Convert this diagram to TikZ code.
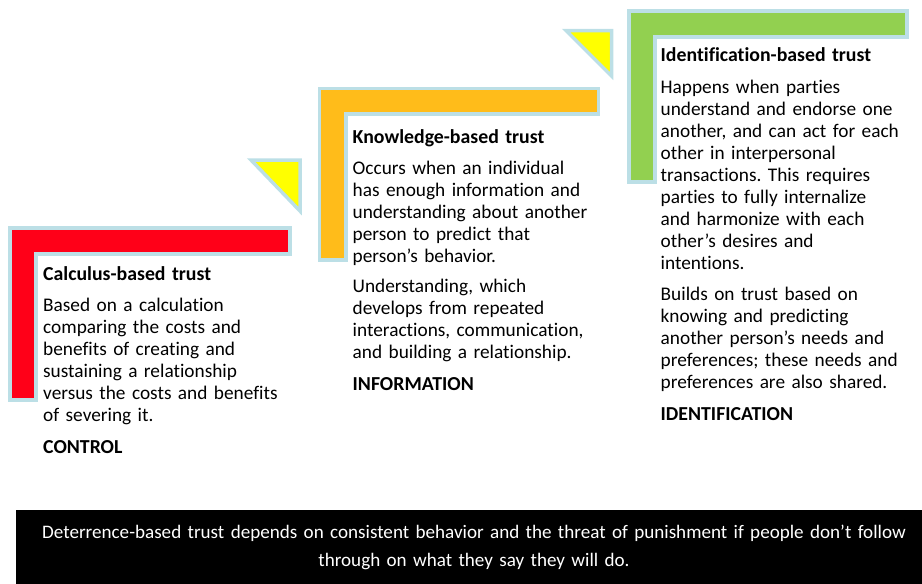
\documentclass[tikz,border=0pt]{standalone}
\usepackage{fontspec}
\setmainfont{Carlito}[Ligatures=NoCommon]
\definecolor{rimblue}{HTML}{BCDFE6}
\definecolor{trustred}{HTML}{FF0018}
\definecolor{trustorange}{HTML}{FFBC1A}
\definecolor{trustgreen}{HTML}{92D050}
\definecolor{stepyellow}{HTML}{FFFF00}
\newcommand{\blockhead}[1]{{\fontsize{19.8}{22}\selectfont\bfseries #1}}

\begin{document}
\frenchspacing
\begin{tikzpicture}[x=1pt,y=-1pt,
    rim/.style={draw=rimblue, line width=3.5pt, line join=miter},
    blocktext/.style={anchor=base west, inner sep=0pt, text width=270pt, align=left,
      font=\fontsize{19.3}{22}\selectfont},
    bartext/.style={anchor=base, inner sep=0pt, text width=900pt, align=center, text=white,
      font=\fontsize{19.1}{28.7}\selectfont}]
    \useasboundingbox (0,0) rectangle (922,584);
    %%%STAIRS%%%
    %L-shaped bars
    \draw[rim, fill=trustred] (10,228)--(290,228)--(290,254)--(36,254)--(36,400)--(10,400)--cycle;
    \draw[rim, fill=trustorange] (319.5,88.5)--(598.5,88.5)--(598.5,114)--(346,114)--(346,260)--(319.5,260)--cycle;
    \draw[rim, fill=trustgreen] (629,11)--(907,11)--(907,37)--(655,37)--(655,182)--(629,182)--cycle;
    %step triangles
    \draw[rim, fill=stepyellow] (251,160)--(300,160)--(300,211)--cycle;
    \draw[rim, fill=stepyellow] (566,30.5)--(611.5,30.5)--(611.5,76)--cycle;
    %texts
    \node[blocktext] (calculus) at (43,280) {\blockhead{Calculus-based trust}\\[9.5pt]
      Based on a calculation\\ comparing the costs and\\ benefits of creating and\\
      sustaining a relationship\\ versus the costs and benefits\\ of severing it.\\[9.5pt]
      \blockhead{CONTROL}};
    \node[blocktext] (knowledge) at (352.5,143.3) {\blockhead{Knowledge-based trust}\\[9.5pt]
      Occurs when an individual\\ has enough information and\\ understanding about another\\
      person to predict that\\ person’s behavior.\\[8pt]
      Understanding, which\\ develops from repeated\\ interactions, communication,\\
      and building a relationship.\\[9.5pt]
      \blockhead{INFORMATION}};
    \node[blocktext] (identification) at (660.5,61.7) {\blockhead{Identification-based trust}\\[9.5pt]
      Happens when parties\\ understand and endorse one\\ another, and can act for each\\
      other in interpersonal\\ transactions. This requires\\ parties to fully internalize\\
      and harmonize with each\\ other’s desires and\\ intentions.\\[9.5pt]
      Builds on trust based on\\ knowing and predicting\\ another person’s needs and\\
      preferences; these needs and\\ preferences are also shared.\\[9.5pt]
      \blockhead{IDENTIFICATION}};
    %bottom bar
    \fill[black] (16,510) rectangle (922,584);
    \node[bartext] (deterrence) at (474,538) {Deterrence-based trust depends on consistent behavior and the threat of punishment if people don’t follow\\
      through on what they say they will do.};
\end{tikzpicture}
\end{document}
